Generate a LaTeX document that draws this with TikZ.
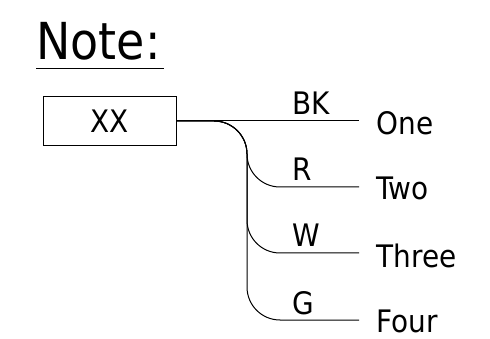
\documentclass[tikz,border=0pt]{standalone}
\usepackage{fontspec}
\setmainfont{DejaVu Sans Condensed}
\begin{document}
\begin{tikzpicture}[x=1pt, y=-1pt, line width=1pt,
        wire/.style = {rounded corners=33pt},
        tag/.style = {font=\fontsize{31}{31}\selectfont, inner sep=0pt}]
            \useasboundingbox (0,0) rectangle (490,339);
            \node[font=\fontsize{51}{51}\selectfont, inner sep=0pt, anchor=base west] (note) at (36,60) {Note:};
            \draw ([yshift=-9pt]note.base west) -- ([xshift=3pt, yshift=-9pt]note.base east);
            \node[draw, tag, minimum width=133pt, minimum height=49pt] (xx) at (110,121) {XX};
            \coordinate (e1) at (359,121);
            \coordinate (e2) at (359,187);
            \coordinate (e3) at (359,253);
            \coordinate (e4) at (359,320);
            \draw[] (xx.east) to (e1);
            \draw[wire] (xx.east) -| (247,187) -- (e2);
            \draw[wire] (xx.east) -| (247,253) -- (e3);
            \draw[wire] (xx.east) -| (247,320) -- (e4);
            \node[tag, anchor=base west] (c1) at (292,115) {BK};
            \node[tag, anchor=base west] (c2) at (292,181) {R};
            \node[tag, anchor=base west] (c3) at (292,247) {W};
            \node[tag, anchor=base west] (c4) at (292,314) {G};
            \node[tag, anchor=base west] (1) at (376,135) {One};
            \node[tag, anchor=base west] (2) at (376,200) {Two};
            \node[tag, anchor=base west] (3) at (376,267) {Three};
            \node[tag, anchor=base west] (4) at (376,332) {Four};
        \end{tikzpicture}
\end{document}
